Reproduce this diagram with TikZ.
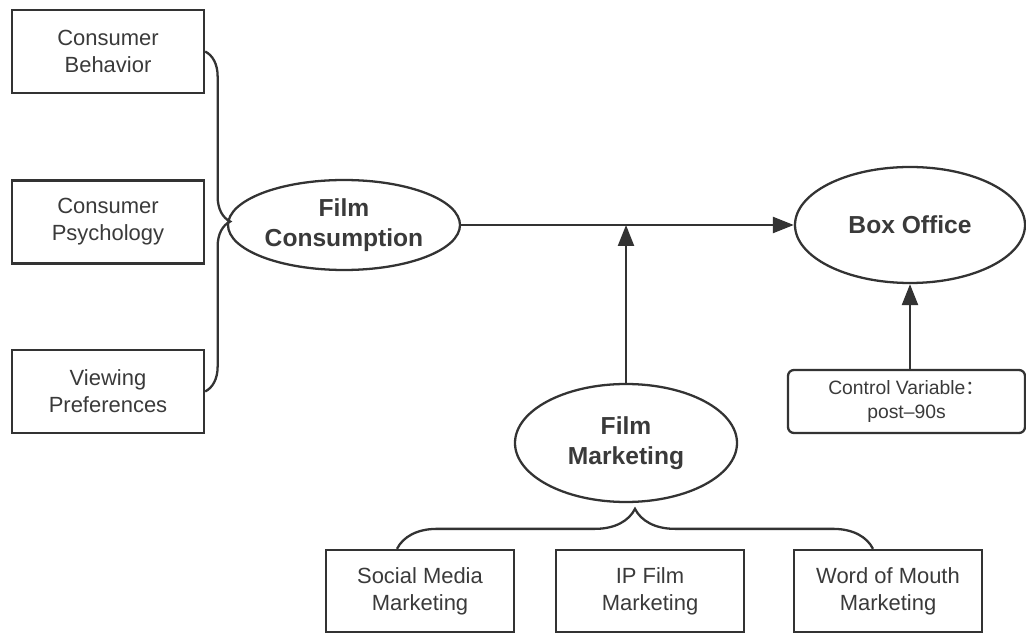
\documentclass[tikz,border=0pt]{standalone}
\usepackage{fontspec}
\setmainfont{Liberation Sans}
\newfontfamily\cjk{Noto Sans CJK SC}
\usetikzlibrary{arrows.meta,shapes.geometric,decorations.pathreplacing}

\definecolor{linegray}{HTML}{333333}
\definecolor{textgray}{HTML}{3A3A3A}

\begin{document}
\begin{tikzpicture}[
line width=1.3pt,
draw=linegray,
every node/.style={
draw=linegray,
text=textgray,
align=center,
inner sep=0pt
},
factor/.style={
rectangle,
minimum width=3.84cm,
minimum height=1.66cm,
font=\fontsize{12.5}{15.4}\selectfont
},
channel/.style={
rectangle,
minimum width=3.76cm,
minimum height=1.64cm,
font=\fontsize{12.5}{15.4}\selectfont
},
core/.style={
ellipse,
font=\bfseries\fontsize{14}{17}\selectfont
},
arr/.style={
draw=linegray,
-{Triangle[length=0.42cm,width=0.32cm]}
},
bracket/.style={
draw=linegray,
decorate,
decoration={brace,amplitude=#1}
}
]

\useasboundingbox (0,0) rectangle (20.52,-12.68);

% consumer side
\node[factor] (CB) at (2.16,-1.03)
{Consumer\\Behavior};

\node[factor] (CP) at (2.16,-4.44)
{Consumer\\Psychology};

\node[factor] (VP) at (2.16,-7.83)
{Viewing\\Preferences};

% main variables
\node[core,minimum width=4.64cm,minimum height=1.8cm] (FC) at (6.88,-4.5)
{Film\\Consumption};

\node[core,minimum width=4.6cm,minimum height=2.32cm] (BO) at (18.2,-4.5)
{Box Office};

\node[core,minimum width=4.44cm,minimum height=2.36cm] (FM) at (12.52,-8.86)
{Film\\Marketing};

\node[rectangle,rounded corners=0.12cm,minimum width=4.74cm,minimum height=1.26cm,
font=\fontsize{11}{14}\selectfont] (CV) at (18.13,-8.03)
{Control Variable{\cjk ：}\\post\textendash 90s};

% marketing channels
\node[channel] (SM) at (8.4,-11.82)
{Social Media\\Marketing};

\node[channel] (IP) at (13.0,-11.82)
{IP Film\\Marketing};

\node[channel] (WM) at (17.76,-11.82)
{Word of Mouth\\Marketing};

\coordinate (J) at (FM |- FC);

\draw[bracket=0.5cm] (CB.east) -- (VP.east);
\draw[bracket=0.8cm] ([xshift=-0.46cm]SM.north) -- ([xshift=-0.3cm]WM.north);

\draw[arr] (FC) -- (BO);
\draw[arr] (FM) -- (J);
\draw[arr] (CV.north -| BO.center) -- (BO);

\end{tikzpicture}
\end{document}
